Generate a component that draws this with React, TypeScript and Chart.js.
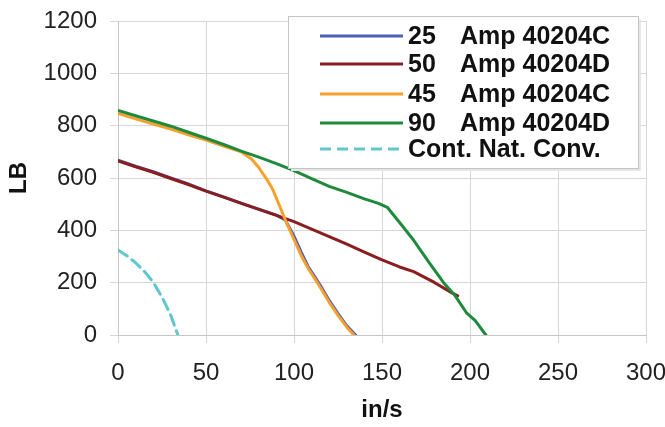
import React, { useEffect, useRef } from "react";
import { Chart, registerables } from "chart.js";

Chart.register(...registerables);

// ---- data ----
const amp25X = [0, 10, 20, 30, 40, 50, 60, 70, 80, 90, 95, 100, 104, 108, 112, 116, 120, 125, 130, 135];
const amp25Y = [668, 645, 624, 600, 577, 551, 528, 504, 481, 458, 440, 378, 318, 262, 220, 178, 132, 82, 35, 0];

const amp50X = [0, 10, 20, 30, 40, 50, 60, 70, 80, 90, 100, 110, 120, 130, 140, 150, 160, 168, 180, 190, 193];
const amp50Y = [665, 643, 622, 598, 575, 550, 527, 503, 480, 457, 433, 405, 376, 347, 317, 287, 260, 242, 200, 160, 150];

const amp45X = [0, 10, 20, 30, 40, 50, 60, 70, 76, 80, 85, 88, 92, 96, 100, 104, 108, 112, 116, 120, 125, 130, 134];
const amp45Y = [847, 826, 806, 787, 765, 745, 722, 700, 672, 640, 590, 555, 490, 425, 365, 305, 255, 213, 170, 125, 75, 30, 0];

const amp90X = [0, 10, 20, 30, 40, 50, 60, 70, 80, 90, 100, 110, 120, 130, 140, 148, 153, 160, 168, 177, 185, 191, 198, 203, 209];
const amp90Y = [858, 838, 818, 798, 775, 752, 728, 703, 680, 655, 628, 598, 568, 545, 520, 503, 488, 430, 362, 275, 200, 155, 85, 55, 0];

const convX = [0, 5, 10, 15, 20, 25, 30, 34];
const convY = [325, 303, 276, 243, 202, 145, 75, 0];

const seriesNumbers = ["25", "50", "45", "90", ""];
const seriesNames = ["Amp 40204C", "Amp 40204D", "Amp 40204C", "Amp 40204D", "Cont. Nat. Conv."];
const seriesColors = ["#4d60b6", "#8a1e1e", "#f8a02c", "#1f8a3c", "#5ec8cf"];

const xTickValues = [0, 50, 100, 150, 200, 250, 300];
const yTickValues = [0, 200, 400, 600, 800, 1000, 1200];

const xTitle = "in/s";
const yTitle = "LB";

const zip = (xs: number[], ys: number[]) => xs.map((x, i) => ({ x, y: ys[i] }));

const FONT = "'Liberation Sans', Arial, sans-serif";

const legendPlugin = {
  id: "boxLegend",
  afterDraw(chart: any) {
    const ctx = chart.ctx as CanvasRenderingContext2D;
    ctx.save();
    const bx = 288, by = 16, bw = 350, bh = 152;
    ctx.fillStyle = "#e6e6e6";
    ctx.fillRect(bx + 3, by + 3, bw, bh);
    ctx.fillStyle = "#ffffff";
    ctx.fillRect(bx, by, bw, bh);
    ctx.strokeStyle = "#c4c4c4";
    ctx.lineWidth = 1;
    ctx.strokeRect(bx + 0.5, by + 0.5, bw, bh);
    const rows = [36, 64, 94, 123, 149];
    ctx.font = `bold 25px ${FONT}`;
    ctx.textBaseline = "middle";
    ctx.fillStyle = "#111";
    chart.data.datasets.forEach((ds: any, i: number) => {
      const y = rows[i];
      ctx.strokeStyle = ds.borderColor;
      ctx.lineWidth = 3;
      ctx.setLineDash(ds.borderDash || []);
      ctx.beginPath();
      ctx.moveTo(320, y);
      ctx.lineTo(403, y);
      ctx.stroke();
      ctx.setLineDash([]);
      ctx.textAlign = "left";
      if (seriesNumbers[i]) {
        ctx.fillText(seriesNumbers[i], 408, y + 1);
        ctx.fillText(seriesNames[i], 460, y + 1);
      } else {
        ctx.fillText(seriesNames[i], 408, y + 1);
      }
    });
    ctx.restore();
  },
};

export default function App() {
  const ref = useRef<HTMLCanvasElement | null>(null);
  useEffect(() => {
    if (!ref.current) return;
    const mk = (i: number, xs: number[], ys: number[], order: number, dash?: number[]) => ({
      label: `${seriesNumbers[i]} ${seriesNames[i]}`.trim(),
      data: zip(xs, ys),
      borderColor: seriesColors[i],
      backgroundColor: seriesColors[i],
      borderWidth: 3,
      pointRadius: 0,
      tension: 0,
      fill: false,
      order,
      borderDash: dash,
      borderCapStyle: "round",
      borderJoinStyle: "round",
    });
    const chart = new Chart(ref.current, {
      type: "line",
      data: {
        datasets: [
          mk(0, amp25X, amp25Y, 5),
          mk(1, amp50X, amp50Y, 4),
          mk(2, amp45X, amp45Y, 3),
          mk(3, amp90X, amp90Y, 2),
          mk(4, convX, convY, 1, [11, 6]),
        ] as any,
      },
      options: {
        animation: false,
        responsive: false,
        devicePixelRatio: 1,
        layout: { padding: { left: 0, right: 19, top: 21, bottom: 0 } },
        plugins: { legend: { display: false }, tooltip: { enabled: false } },
        scales: {
          x: {
            type: "linear",
            min: 0,
            max: 300,
            afterBuildTicks: (s: any) => {
              s.ticks = xTickValues.map((v) => ({ value: v }));
            },
            afterFit: (s: any) => {
              s.height = 92;
              s.paddingLeft = 0;
              s.paddingRight = 0;
            },
            ticks: { color: "#222", padding: 16, font: { family: FONT, size: 24 }, callback: (v: any) => String(v) },
            grid: { color: "#d6d6d6", tickLength: 8 },
            border: { color: "#c6c6c6" },
            title: {
              display: true,
              text: xTitle,
              color: "#111",
              font: { family: FONT, size: 24, weight: "bold" },
              padding: { top: 0, bottom: 2 },
            },
          },
          y: {
            type: "linear",
            min: 0,
            max: 1200,
            afterBuildTicks: (s: any) => {
              s.ticks = yTickValues.map((v) => ({ value: v }));
            },
            afterFit: (s: any) => {
              s.width = 118;
              s.paddingTop = 0;
              s.paddingBottom = 0;
            },
            ticks: { color: "#222", padding: 13, font: { family: FONT, size: 24 }, callback: (v: any) => String(v) },
            grid: { color: "#d6d6d6", tickLength: 8 },
            border: { color: "#c6c6c6" },
            title: {
              display: true,
              text: yTitle,
              color: "#111",
              font: { family: FONT, size: 24, weight: "bold" },
              padding: { top: 5, bottom: 0 },
            },
          },
        },
      } as any,
      plugins: [legendPlugin],
    });
    return () => chart.destroy();
  }, []);
  return (
    <div style={{ position: "fixed", left: 0, top: 0, width: 665, height: 427, background: "#fff" }}>
      <canvas ref={ref} width={665} height={427} style={{ display: "block" }} />
    </div>
  );
}
